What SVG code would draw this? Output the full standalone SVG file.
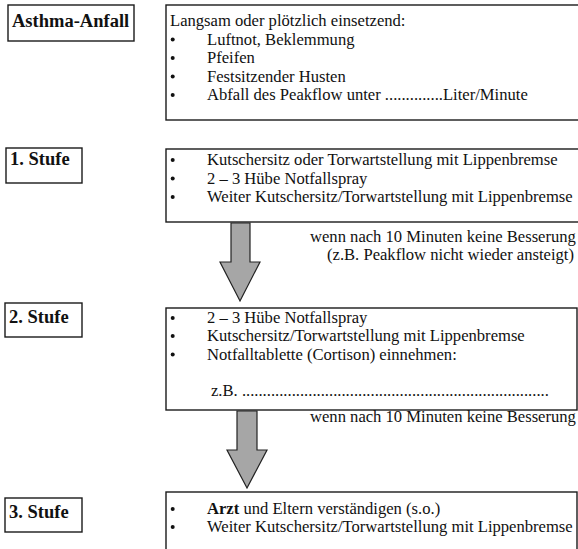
<svg xmlns="http://www.w3.org/2000/svg" width="578" height="549" viewBox="0 0 578 549">
<style>
.bx{fill:none;stroke:#1a1a1a;stroke-width:1.4}
.lb{font-family:"Liberation Serif","Times New Roman",serif;font-weight:bold;font-size:18.5px;fill:#111}
.t{font-family:"Liberation Serif","Times New Roman",serif;font-size:16.6px;fill:#111}
.b{fill:#111}
.ar{fill:#a6a6a6;stroke:#222;stroke-width:1.2;stroke-linejoin:miter}
</style>
<rect width="578" height="549" fill="#fff"/>

<g id="asthma-anfall">
<rect class="bx" x="8" y="5" width="126" height="36"/>
<text class="lb" x="12" y="27">Asthma-Anfall</text>
</g>
<g id="asthma-info">
<rect class="bx" x="166" y="5" width="414" height="115"/>
<text class="t" x="170" y="25.5">Langsam oder plötzlich einsetzend:</text>
<circle class="b" cx="172.7" cy="39.5" r="2"/>
<circle class="b" cx="172.7" cy="58" r="2"/>
<circle class="b" cx="172.7" cy="76.5" r="2"/>
<circle class="b" cx="172.7" cy="95" r="2"/>
<text class="t" x="207" y="44.5">Luftnot, Beklemmung</text>
<text class="t" x="207" y="63">Pfeifen</text>
<text class="t" x="207" y="81.5">Festsitzender Husten</text>
<text class="t" x="207" y="100">Abfall des Peakflow unter ..............Liter/Minute</text>
</g>

<g id="stufe1">
<rect class="bx" x="6" y="148" width="76" height="35"/>
<text class="lb" x="10" y="165">1. Stufe</text>
</g>
<g id="stufe1-info">
<rect class="bx" x="166" y="149" width="414" height="73"/>
<circle class="b" cx="172.7" cy="160" r="2"/>
<circle class="b" cx="172.7" cy="178.5" r="2"/>
<circle class="b" cx="172.7" cy="197" r="2"/>
<text class="t" x="207" y="165">Kutschersitz oder Torwartstellung mit Lippenbremse</text>
<text class="t" x="207" y="183.5">2 – 3 Hübe Notfallspray</text>
<text class="t" x="207" y="202">Weiter Kutschersitz/Torwartstellung mit Lippenbremse</text>
</g>

<g id="bedingung1">
<text class="t" x="310" y="242">wenn nach 10 Minuten keine Besserung</text>
<text class="t" x="327" y="259.5">(z.B. Peakflow nicht wieder ansteigt)</text>
</g>

<g id="stufe2">
<rect class="bx" x="5" y="303" width="77" height="34"/>
<text class="lb" x="9" y="323">2. Stufe</text>
</g>
<g id="stufe2-info">
<rect class="bx" x="166" y="308" width="411" height="102"/>
<circle class="b" cx="172.7" cy="318" r="2"/>
<circle class="b" cx="172.7" cy="336" r="2"/>
<circle class="b" cx="172.7" cy="354.5" r="2"/>
<text class="t" x="207" y="323">2 – 3 Hübe Notfallspray</text>
<text class="t" x="207" y="341">Kutschersitz/Torwartstellung mit Lippenbremse</text>
<text class="t" x="207" y="359.5">Notfalltablette (Cortison)  einnehmen:</text>
<text class="t" x="211" y="396">z.B. ..........................................................................</text>
</g>

<g id="bedingung2">
<text class="t" x="310" y="422">wenn nach 10 Minuten keine Besserung</text>
</g>

<g id="stufe3">
<rect class="bx" x="5" y="498" width="77" height="34"/>
<text class="lb" x="9" y="518">3. Stufe</text>
</g>
<g id="stufe3-info">
<rect class="bx" x="166" y="492" width="411" height="70"/>
<circle class="b" cx="172.7" cy="509" r="2"/>
<circle class="b" cx="172.7" cy="527" r="2"/>
<text class="t" x="207" y="514"><tspan font-weight="bold">Arzt</tspan> und Eltern verständigen (s.o.)</text>
<text class="t" x="207" y="532">Weiter Kutschersitz/Torwartstellung mit Lippenbremse</text>
</g>

<g id="connectors">
<polygon class="ar" points="231,223 250,223 250,262 260,262 240,301 220,262 231,262"/>
<polygon class="ar" points="237,411 257,411 257,450 267,450 247,488 227,450 237,450"/>
</g>
</svg>
